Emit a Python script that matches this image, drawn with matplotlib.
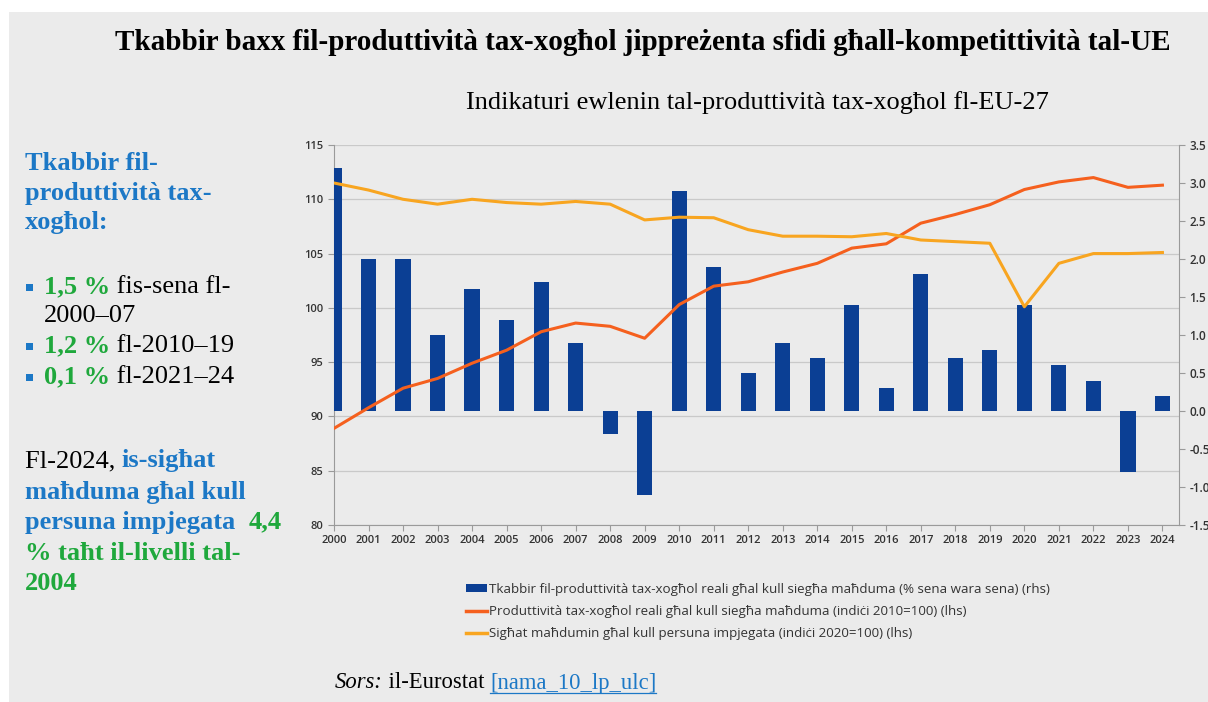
import matplotlib
matplotlib.use("Agg")
import matplotlib.pyplot as plt
from matplotlib.patches import Rectangle, Patch
from matplotlib.lines import Line2D

# data
years = list(range(2000, 2025))
growth_rhs = [3.2, 2.0, 2.0, 1.0, 1.6, 1.2, 1.7, 0.9, -0.3, -1.1, 2.9, 1.9, 0.5,
              0.9, 0.7, 1.4, 0.3, 1.8, 0.7, 0.8, 1.4, 0.6, 0.4, -0.8, 0.2]
productivity_lhs = [88.9, 90.8, 92.6, 93.5, 94.9, 96.1, 97.8, 98.6, 98.3, 97.2, 100.3, 102.0, 102.4,
                    103.3, 104.1, 105.5, 105.9, 107.8, 108.6, 109.5, 110.9, 111.6, 112.0, 111.1, 111.3]
hours_lhs = [111.5, 110.85, 110.0, 109.55, 110.0, 109.7, 109.55, 109.8, 109.55, 108.1, 108.35, 108.3, 107.2,
             106.6, 106.6, 106.55, 106.85, 106.25, 106.1, 105.95, 100.1, 104.1, 105.0, 105.0, 105.1]
left_ticks = [80, 85, 90, 95, 100, 105, 110, 115]
right_ticks = [-1.5, -1.0, -0.5, 0.0, 0.5, 1.0, 1.5, 2.0, 2.5, 3.0, 3.5]

legend_labels = [
    "Tkabbir fil-produttività tax-xogħol reali għal kull siegħa maħduma (% sena wara sena) (rhs)",
    "Produttività tax-xogħol reali għal kull siegħa maħduma (indiċi 2010=100) (lhs)",
    "Sigħat maħdumin għal kull persuna impjegata (indiċi 2020=100) (lhs)",
]

BLUE_BAR = "#0b3f94"
RED_OR = "#f5601e"
LIGHT_OR = "#f8a520"
TXT_BLUE = "#1c78c6"
TXT_GREEN = "#1fa83c"
PANEL = "#ebebeb"
SERIF = ["Liberation Serif", "DejaVu Serif"]
SANS = ["Open Sans", "DejaVu Sans"]

W, H = 1208, 702
fig = plt.figure(figsize=(W / 100, H / 100), dpi=100, facecolor="white")
fig.patches.append(Rectangle((9 / W, 0), 1, 1 - 12 / H, transform=fig.transFigure,
                             facecolor=PANEL, edgecolor="none", zorder=-10))


def px(x, y):
    return x / W, 1 - y / H


# base axes: left scale + grid
ax = fig.add_axes([334 / W, 1 - 525 / H, (1179 - 334) / W, 380 / H])
ax.set_facecolor("none")
ax.set_xlim(2000, 2024.48)
ax.set_ylim(80, 115)
ax.set_yticks(left_ticks)
ax.set_xticks(years)
ax.set_xticklabels([str(y) for y in years])
ax.grid(axis="y", color="#c9c9c9", lw=0.9)
for s in ["top", "right"]:
    ax.spines[s].set_visible(False)
for s in ["left", "bottom"]:
    ax.spines[s].set_color("#9a9a9a")
ax.tick_params(colors="#9a9a9a", length=4, width=0.8, labelcolor="#333333", labelsize=8)
for lab in ax.get_xticklabels() + ax.get_yticklabels():
    lab.set_family(SANS)
    lab.set_fontweight("semibold")

# bars on the right scale
axr = ax.twinx()
axr.set_ylim(-1.5, 3.5)
axr.set_yticks(right_ticks)
axr.set_yticklabels([f"{v:.1f}" for v in right_ticks])
bars = axr.bar(years, growth_rhs, width=0.44, color=BLUE_BAR, zorder=2)
for s in ["top", "left", "bottom"]:
    axr.spines[s].set_visible(False)
axr.spines["right"].set_color("#9a9a9a")
axr.tick_params(colors="#9a9a9a", length=4, width=0.8, labelcolor="#333333", labelsize=8.5)
for lab in axr.get_yticklabels():
    lab.set_family(SANS)
    lab.set_fontweight("semibold")

# lines on the left scale, drawn above bars
axl = ax.twinx()
axl.set_ylim(80, 115)
axl.set_yticks([])
for s in axl.spines.values():
    s.set_visible(False)
l1, = axl.plot(years, productivity_lhs, color=RED_OR, lw=2.2)
l2, = axl.plot(years, hours_lhs, color=LIGHT_OR, lw=2.2)

handles = [Patch(facecolor=BLUE_BAR), Line2D([], [], color=RED_OR, lw=2.5),
           Line2D([], [], color=LIGHT_OR, lw=2.5)]
fig.legend(handles, legend_labels, loc="upper left", bbox_to_anchor=px(454, 571),
           frameon=False, handlelength=1.6, handleheight=0.5, handletextpad=0.1,
           labelspacing=0.68, prop={"family": SANS, "size": 9.6}, labelcolor="#333333")

# titles
fig.text(*px(643, 42), "Tkabbir baxx fil-produttività tax-xogħol jippreżenta sfidi għall-kompetittività tal-UE",
         ha="center", va="center", family=SERIF, weight="bold", size=21, color="black")
fig.text(*px(757, 103), "Indikaturi ewlenin tal-produttività tax-xogħol fl-EU-27",
         ha="center", va="center", family=SERIF, size=19, color="black")

renderer = fig.canvas.get_renderer()


def put_line(x, y, parts, size=19):
    for text, color, weight, style in parts:
        t = fig.text(*px(x, y), text, ha="left", va="center", family=SERIF, size=size,
                     color=color, weight=weight, style=style)
        x += t.get_window_extent(renderer).width
    return x


def bullet(y):
    fig.patches.append(Rectangle(px(26, y + 3.5), 7 / W, 7 / H, transform=fig.transFigure,
                                 facecolor=TXT_BLUE, edgecolor="none"))


B = (TXT_BLUE, "bold", "normal")
G = (TXT_GREEN, "bold", "normal")
K = ("black", "normal", "normal")

put_line(25, 163, [("Tkabbir fil-",) + B])
put_line(25, 193, [("produttività tax-",) + B])
put_line(25, 223, [("xogħol:",) + B])

bullet(287)
put_line(44, 287, [("1,5 %",) + G, (" fis-sena fl-",) + K])
put_line(44, 316, [("2000–07",) + K])
bullet(346)
put_line(44, 346, [("1,2 %",) + G, (" fl-2010–19",) + K])
bullet(377)
put_line(44, 377, [("0,1 %",) + G, (" fl-2021–24",) + K])

put_line(25, 461, [("Fl-2024, ",) + K, ("is-sigħat",) + B])
put_line(25, 492, [("maħduma għal kull",) + B])
put_line(25, 522, [("persuna impjegata  ",) + B, ("4,4",) + G])
put_line(25, 553, [("% taħt il-livelli tal-",) + G])
put_line(25, 583, [("2004",) + G])

# source line
x = put_line(335, 683, [("Sors:", "black", "normal", "italic"), (" il-Eurostat ",) + K], size=16.3)
link = fig.text(*px(x, 683), "[nama_10_lp_ulc]", ha="left", va="center", family=SERIF,
                size=16.3, color=TXT_BLUE)
ext = link.get_window_extent(renderer)
fig.lines.append(Line2D([ext.x0 / W, ext.x1 / W], [(ext.y0 + 1) / H] * 2,
                        transform=fig.transFigure, color=TXT_BLUE, lw=0.9))

fig.savefig("out.png", dpi=100, facecolor="white")
